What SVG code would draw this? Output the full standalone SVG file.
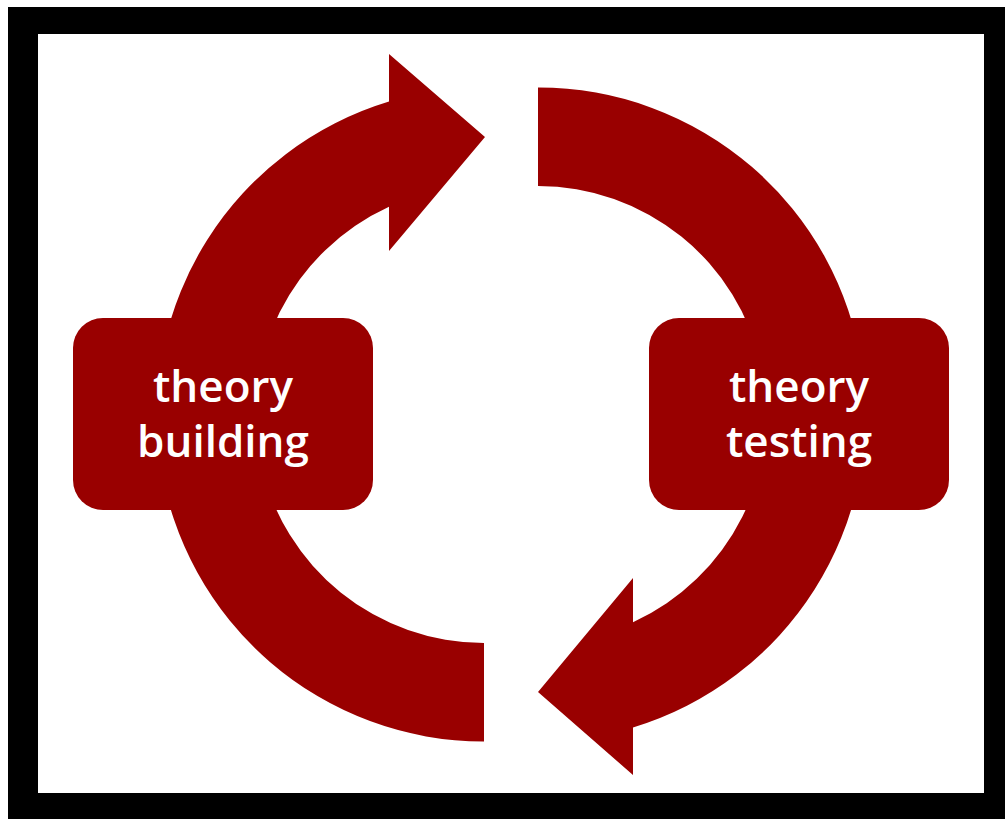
<svg xmlns="http://www.w3.org/2000/svg" width="1005" height="819" viewBox="0 0 1005 819">
  <style>
    .arrow { fill: #990000; }
    .box { fill: #990000; }
    .label { fill: #ffffff; font-family: "Open Sans", "Noto Sans", "Liberation Sans", sans-serif; font-weight: 600; font-size: 44px; text-anchor: middle; }
  </style>
  <rect x="0" y="0" width="1005" height="819" fill="#ffffff"/>
  <rect x="8" y="7" width="997" height="812" fill="#000000"/>
  <rect x="38" y="34" width="946" height="759" fill="#ffffff"/>
  <g id="connectors">
    <path id="arrow-build-to-test" class="arrow" d="M 484 741.5 A 327 327 0 0 1 389 101.5 L 389 54 L 485 137 L 389 251 L 389 206.7 A 228.5 228.5 0 0 0 484 643 Z"/>
    <path id="arrow-test-to-build" class="arrow" d="M 538 87.5 A 327 327 0 0 1 633 727.5 L 633 775 L 538 692 L 633 578 L 633 622.3 A 228.5 228.5 0 0 0 538 186 Z"/>
  </g>
  <g id="theory-building">
    <rect class="box" x="73" y="318" width="300" height="192" rx="30" ry="30"/>
    <text class="label" x="223" y="402">theory</text>
    <text class="label" x="223" y="457">building</text>
  </g>
  <g id="theory-testing">
    <rect class="box" x="649" y="318" width="300" height="192" rx="30" ry="30"/>
    <text class="label" x="799" y="402">theory</text>
    <text class="label" x="799" y="457">testing</text>
  </g>
</svg>
